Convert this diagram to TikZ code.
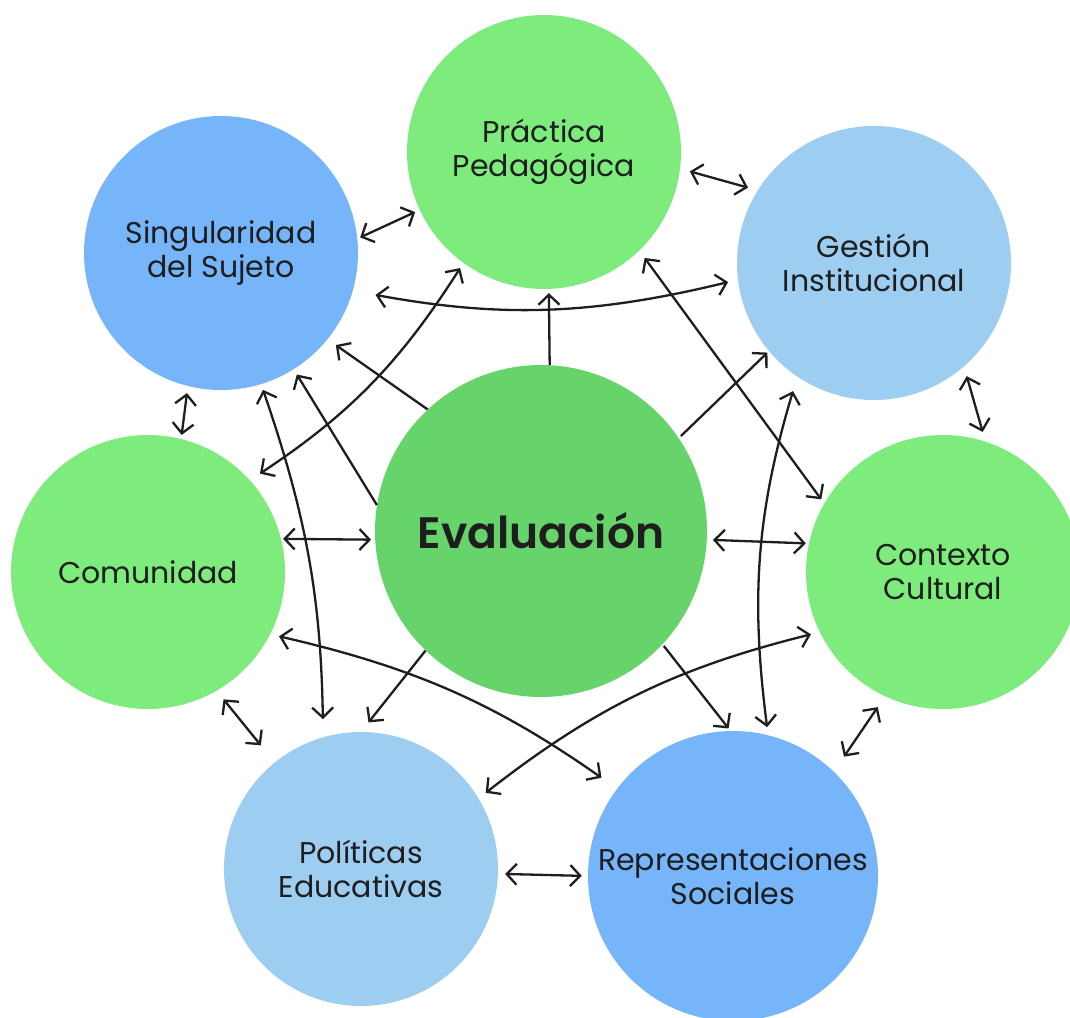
\documentclass[tikz,border=0pt]{standalone}
\usepackage{fontspec}
\setmainfont{Poppins}
\newfontfamily\evalfont{Poppins SemiBold}
\usetikzlibrary{arrows.meta}
\definecolor{lgreen}{RGB}{125,236,125}
\definecolor{dgreen}{RGB}{102,212,106}
\definecolor{blu}{RGB}{119,181,250}
\definecolor{lblue}{RGB}{157,206,242}
\definecolor{ink}{RGB}{30,30,30}
\begin{document}
\begin{tikzpicture}[x=1pt,y=1pt,
 bub/.style={circle,minimum size=274pt,inner sep=0pt,text=ink,align=center,font=\fontsize{30}{34}\selectfont},
 lk/.style={draw=ink,line width=2.3pt,{Straight Barb[length=10pt,width=21pt]}-{Straight Barb[length=10pt,width=21pt]}},
 one/.style={draw=ink,line width=2.3pt,-{Straight Barb[length=10pt,width=21pt]}}]
\useasboundingbox (0,0) rectangle (1070,-1017);
\clip (0,0) rectangle (1070,-1017);
\node[bub,fill=lgreen] (P) at (544,-152) {Práctica\\Pedagógica};
\node[bub,fill=blu] (S) at (221,-253) {Singularidad\\del Sujeto};
\node[bub,fill=lblue] (G) at (874,-263) {Gestión\\Institucional};
\node[bub,fill=lgreen] (C) at (148,-572) {Comunidad};
\node[bub,fill=dgreen,minimum size=332pt,font=\fontsize{44}{50}\selectfont\evalfont] (E) at (541,-531) {Evaluación};
\node[bub,fill=lgreen] (K) at (943,-572) {Contexto\\Cultural};
\node[bub,fill=lblue] (Po) at (361,-869) {Políticas\\Educativas};
\node[bub,fill=blu,minimum size=290pt] (R) at (733,-876) {Representaciones\\Sociales};
\draw[lk,shorten <=3pt,shorten >=5pt] (S.6.6) -- (P.205.5);
\draw[lk,shorten <=10pt,shorten >=10pt] (P.-7.4) -- (G.148.6);
\draw[lk,shorten <=23pt,shorten >=10pt] (S.-16.3) to[bend right=12] (G.187);
\draw[lk,shorten <=12pt,shorten >=6pt] (C.42.3) to[bend right=12] (P.234.1);
\draw[one,shorten >=4pt] (E.87.2) -- (P.-88);
\draw[one,shorten >=10pt] (E.133.8) -- (S.-39.8);
\draw[one,shorten >=6pt] (E.171.5) -- (S.-58.8);
\draw[lk,shorten <=7pt,shorten >=4pt] (S.-104) -- (C.76.5);
\draw[lk,shorten <=6pt,shorten >=18pt] (S.-73) to[bend left=9] (Po.106.5);
\draw[lk,shorten <=2pt,shorten >=4pt] (C.14.1) -- (E.183);
\draw[one,shorten <=3pt,shorten >=2pt] (E.34.2) -- (G.220.3);
\draw[lk,shorten <=9pt,shorten >=5pt] (P.-46.4) -- (K.150.4);
\draw[lk,shorten <=10pt,shorten >=10pt] (G.-49.1) -- (K.72.6);
\draw[lk,shorten <=6pt,shorten >=3pt] (E.-3.3) -- (K.168);
\draw[lk,shorten <=15pt,shorten >=8pt] (G.236.8) to[bend right=12] (R.76.8);
\draw[lk,shorten <=9pt,shorten >=19pt] (C.-27.8) to[bend left=11] (R.143.4);
\draw[one,shorten >=12pt] (E.226.2) -- (Po.90.4);
\draw[one,shorten <=2pt,shorten >=3pt] (E.-43.6) -- (R.91.2);
\draw[lk,shorten <=9pt,shorten >=9pt] (Po.31.3) to[bend left=12] (K.206.4);
\draw[lk,shorten <=11pt,shorten >=22pt] (C.-60) -- (Po.129.1);
\draw[lk,shorten <=13pt,shorten >=18pt] (K.245.1) -- (R.46.7);
\draw[lk,shorten <=7pt,shorten >=6pt] (Po.-2.4) -- (R.180.4);
\end{tikzpicture}
\end{document}
